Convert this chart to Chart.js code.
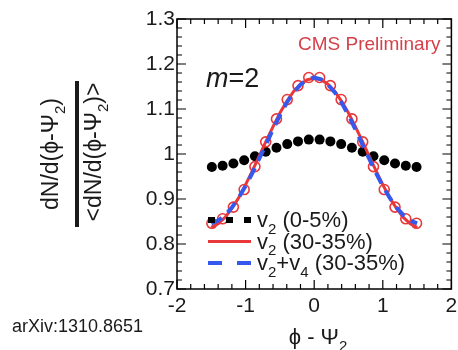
<!DOCTYPE html>
<html>
<head>
<meta charset="utf-8">
<script src="https://cdn.jsdelivr.net/npm/chart.js@4.4.1/dist/chart.umd.min.js"></script>
<style>
  html, body { margin: 0; padding: 0; background: #fff; }
</style>
</head>
<body>
<canvas id="phiChart" width="458" height="350"></canvas>
<script>
// bin centres in phi - Psi_2 (20 bins over -pi/2..pi/2)
const phiBins = [-1.492, -1.335, -1.178, -1.021, -0.864, -0.707, -0.550, -0.393, -0.236, -0.079,
                 0.079, 0.236, 0.393, 0.550, 0.707, 0.864, 1.021, 1.178, 1.335, 1.492];
// v2 (0-5%) black dots
const central = [0.971, 0.974, 0.979, 0.986, 0.995, 1.005, 1.014, 1.022, 1.028, 1.032,
                 1.032, 1.028, 1.022, 1.014, 1.005, 0.995, 0.986, 0.979, 0.974, 0.971];
// v2 (30-35%) open red circles
const midCentral = [0.846, 0.856, 0.882, 0.921, 0.972, 1.027, 1.078, 1.121, 1.152, 1.170,
                    1.170, 1.152, 1.121, 1.078, 1.027, 0.972, 0.921, 0.882, 0.856, 0.846];
// fit curves
const fitPhi = [-1.5, -1.4, -1.3, -1.2, -1.1, -1.0, -0.9, -0.8, -0.7, -0.6, -0.5, -0.4, -0.3, -0.2, -0.1, 0,
                0.1, 0.2, 0.3, 0.4, 0.5, 0.6, 0.7, 0.8, 0.9, 1.0, 1.1, 1.2, 1.3, 1.4, 1.5];
const fitV2 = [0.837, 0.845, 0.859, 0.879, 0.903, 0.932, 0.963, 0.996, 1.029, 1.061, 1.091, 1.117, 1.139, 1.155, 1.165, 1.168,
               1.165, 1.155, 1.139, 1.117, 1.091, 1.061, 1.029, 0.996, 0.963, 0.932, 0.903, 0.879, 0.859, 0.845, 0.837];
const fitV2V4 = [0.846, 0.852, 0.864, 0.881, 0.903, 0.929, 0.958, 0.990, 1.022, 1.055, 1.086, 1.114, 1.137, 1.154, 1.166, 1.170,
                 1.166, 1.154, 1.137, 1.114, 1.086, 1.055, 1.022, 0.990, 0.958, 0.929, 0.903, 0.881, 0.864, 0.852, 0.846];

const FONT = '"Liberation Sans", Arial, Helvetica, sans-serif';
const RED = "#e8383a";
const BLUE = "#3558ee";
const PHI = "\u03d5";
const PSI = "\u03a8";

const toPoints = (xs, ys) => xs.map((x, i) => ({ x, y: ys[i] }));

// draw text made of [string, style] parts, style: "sub" | "it" | undefined
function drawRich(ctx, parts, x, y, size, align) {
  const fontFor = p => p[1] === "sub" ? `${Math.round(size * 0.66)}px ${FONT}`
    : p[1] === "it" ? `italic ${size}px ${FONT}` : `${size}px ${FONT}`;
  let w = 0;
  parts.forEach(p => { ctx.font = fontFor(p); w += ctx.measureText(p[0]).width; });
  let cx = align === "center" ? x - w / 2 : x;
  ctx.textAlign = "left";
  ctx.textBaseline = "alphabetic";
  parts.forEach(p => {
    ctx.font = fontFor(p);
    ctx.fillText(p[0], cx, p[1] === "sub" ? y + size * 0.3 : y);
    cx += ctx.measureText(p[0]).width;
  });
}

const legendItems = [
  { parts: [["v"], ["2", "sub"], [" (0-5%)"]], color: "#000", width: 6, dash: [7, 11] },
  { parts: [["v"], ["2", "sub"], [" (30-35%)"]], color: RED, width: 3, dash: [] },
  { parts: [["v"], ["2", "sub"], ["+v"], ["4", "sub"], [" (30-35%)"]], color: BLUE, width: 4, dash: [14, 15] }
];

const decorPlugin = {
  id: "decor",
  afterDatasetsDraw(chart) {
    const ctx = chart.ctx;
    ctx.save();
    legendItems.forEach((item, i) => {
      const ly = 220 + i * 21.5;
      ctx.beginPath();
      ctx.setLineDash(item.dash);
      ctx.strokeStyle = item.color;
      ctx.lineWidth = item.width;
      ctx.moveTo(208, ly);
      ctx.lineTo(251, ly);
      ctx.stroke();
      ctx.setLineDash([]);
      ctx.fillStyle = "#1a1a1a";
      drawRich(ctx, item.parts, 257, ly + 7, 22);
    });
    ctx.restore();
  },
  afterDraw(chart) {
    const { ctx, chartArea: a, scales: { x, y } } = chart;
    ctx.save();
    ctx.strokeStyle = "#000";
    ctx.lineWidth = 1.5;
    ctx.strokeRect(a.left, a.top, a.right - a.left, a.bottom - a.top);

    // ROOT style inner ticks on all four sides
    ctx.lineWidth = 1.2;
    ctx.beginPath();
    for (let k = 0; k <= 20; k++) {
      const px = x.getPixelForValue(-2 + k * 0.2);
      const len = k % 5 === 0 ? 9 : 5;
      ctx.moveTo(px, a.bottom); ctx.lineTo(px, a.bottom - len);
      ctx.moveTo(px, a.top); ctx.lineTo(px, a.top + len);
    }
    for (let k = 0; k <= 30; k++) {
      const py = y.getPixelForValue(0.7 + k * 0.02);
      const len = k % 5 === 0 ? 9 : 5;
      ctx.moveTo(a.left, py); ctx.lineTo(a.left + len, py);
      ctx.moveTo(a.right, py); ctx.lineTo(a.right - len, py);
    }
    ctx.stroke();

    // labels
    ctx.fillStyle = "#d5404a";
    ctx.font = `19px ${FONT}`;
    ctx.textAlign = "left";
    ctx.fillText("CMS Preliminary", 298, 50);

    ctx.fillStyle = "#1a1a1a";
    drawRich(ctx, [["m", "it"], ["=2"]], 206, 87, 27);

    ctx.font = `18px ${FONT}`;
    ctx.fillText("arXiv:1310.8651", 12, 332);

    // x axis title
    drawRich(ctx, [[PHI + " - " + PSI], ["2", "sub"]], 318, 344, 22, "center");

    // y axis title: rotated fraction
    ctx.save();
    ctx.translate(0, 154);
    ctx.rotate(-Math.PI / 2);
    drawRich(ctx, [["dN/d(" + PHI + "-" + PSI], ["2", "sub"], [")"]], 0, 58, 23, "center");
    drawRich(ctx, [["<dN/d(" + PHI + "-" + PSI], ["2", "sub"], [")>"]], 2, 101, 23, "center");
    ctx.fillRect(-73, 75, 146, 4);
    ctx.restore();

    ctx.restore();
  }
};

new Chart(document.getElementById("phiChart"), {
  type: "scatter",
  data: {
    datasets: [
      {
        label: "v2+v4 (30-35%)",
        data: toPoints(fitPhi, fitV2V4),
        showLine: true,
        borderColor: BLUE,
        borderWidth: 4,
        borderDash: [12, 8],
        pointRadius: 0
      },
      {
        label: "v2 (30-35%) fit",
        data: toPoints(fitPhi, fitV2),
        showLine: true,
        borderColor: RED,
        borderWidth: 3,
        pointRadius: 0
      },
      {
        label: "v2 (30-35%)",
        data: toPoints(phiBins, midCentral),
        pointRadius: 5,
        pointBorderWidth: 1.6,
        pointBorderColor: RED,
        pointBackgroundColor: "rgba(0,0,0,0)"
      },
      {
        label: "v2 (0-5%)",
        data: toPoints(phiBins, central),
        pointRadius: 5,
        pointBorderWidth: 0,
        pointBackgroundColor: "#000",
        pointBorderColor: "#000"
      }
    ]
  },
  options: {
    responsive: false,
    animation: false,
    devicePixelRatio: 1,
    layout: { padding: { top: 19, right: 1, left: 0, bottom: 0 } },
    plugins: { legend: { display: false }, tooltip: { enabled: false } },
    scales: {
      x: {
        type: "linear",
        min: -2,
        max: 2,
        grid: { display: false, drawTicks: false },
        border: { display: false },
        ticks: {
          stepSize: 1,
          color: "#1a1a1a",
          font: { family: FONT, size: 21 },
          padding: 5,
          callback: v => String(v)
        },
        afterFit(s) { s.height = 61; s.paddingLeft = 0; s.paddingRight = 0; }
      },
      y: {
        type: "linear",
        min: 0.7,
        max: 1.3,
        grid: { display: false, drawTicks: false },
        border: { display: false },
        ticks: {
          stepSize: 0.1,
          color: "#1a1a1a",
          font: { family: FONT, size: 21 },
          padding: 2,
          callback: v => String(+v.toFixed(1))
        },
        afterFit(s) { s.width = 177; s.paddingTop = 0; s.paddingBottom = 0; }
      }
    }
  },
  plugins: [decorPlugin]
});
</script>
</body>
</html>
